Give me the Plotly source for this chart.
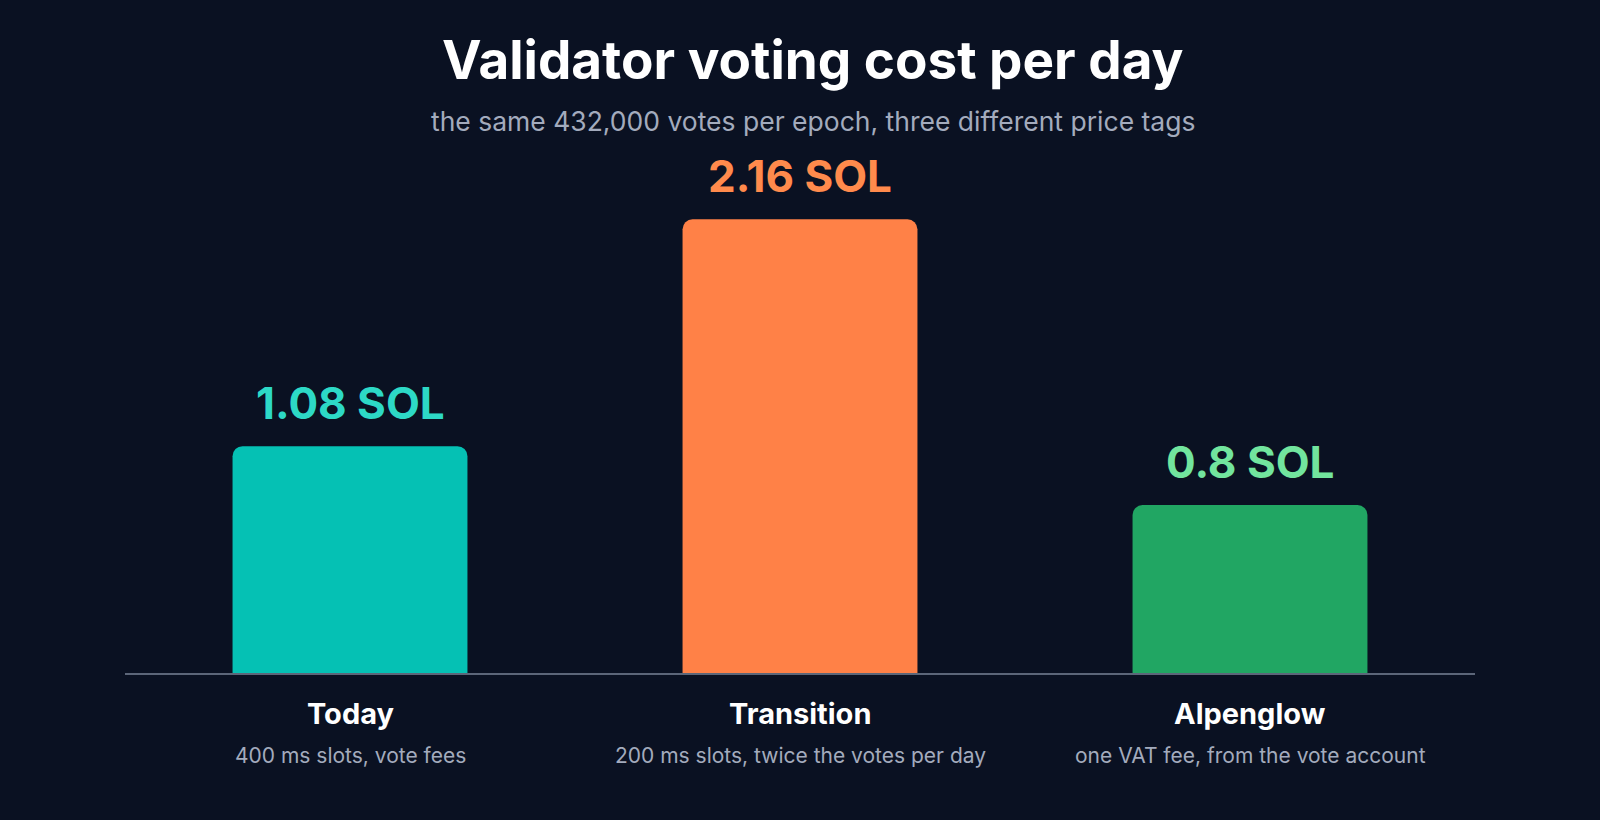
import plotly.graph_objects as go

categories = ["Today", "Transition", "Alpenglow"]
costs_sol = [1.08, 2.16, 0.8]
value_labels = ["1.08 SOL", "2.16 SOL", "0.8 SOL"]
subtitles = ["400 ms slots, vote fees",
             "200 ms slots, twice the votes per day",
             "one VAT fee, from the vote account"]

bar_colors = ["#05C1B4", "#FF8147", "#21A663"]
label_colors = ["#2DD9C6", "#FF8A4C", "#72E59E"]

BG = "#0A1122"
FONT = "Inter"

fig = go.Figure()
fig.add_trace(go.Bar(x=categories, y=costs_sol,
                     marker=dict(color=bar_colors, cornerradius=10, line=dict(width=0)),
                     hoverinfo="skip"))

# value labels above bars
for cat, val, txt, col in zip(categories, costs_sol, value_labels, label_colors):
    fig.add_annotation(x=cat, y=val, text=f"<b>{txt}</b>", showarrow=False,
                       xref="x", yref="y", yanchor="bottom", yshift=14,
                       font=dict(family=FONT, size=44, color=col))

# category names + descriptions under the axis
for cat, sub in zip(categories, subtitles):
    fig.add_annotation(x=cat, y=0, text=f"<b>{cat}</b>", showarrow=False,
                       xref="x", yref="y", yanchor="middle", yshift=-40,
                       font=dict(family=FONT, size=29, color="#FFFFFF"))
    fig.add_annotation(x=cat, y=0, text=sub, showarrow=False,
                       xref="x", yref="y", yanchor="middle", yshift=-82,
                       font=dict(family=FONT, size=21, color="#A3ABBD"))

# title block
fig.add_annotation(x=0.5096, y=1, xref="paper", yref="paper", yanchor="middle",
                   yshift=162 - 60, showarrow=False,
                   text="<b>Validator voting cost per day</b>",
                   font=dict(family=FONT, size=53, color="#FFFFFF"))
fig.add_annotation(x=0.5096, y=1, xref="paper", yref="paper", yanchor="middle",
                   yshift=162 - 121, showarrow=False,
                   text="the same 432,000 votes per epoch, three different price tags",
                   font=dict(family=FONT, size=26.5, color="#A3ABBD"))

fig.update_layout(
    width=1600, height=820,
    paper_bgcolor=BG, plot_bgcolor=BG,
    margin=dict(l=125, r=125, t=162, b=147),
    bargap=0.478,
    showlegend=False,
    xaxis=dict(showline=True, linecolor="#5C6679", linewidth=1.5,
               showticklabels=False, showgrid=False, zeroline=False, ticks=""),
    yaxis=dict(range=[0, 2.433], visible=False, showgrid=False, zeroline=False),
)

fig.write_html("out.html", config={"displayModeBar": False},
               post_script="document.body.style.margin='0';"
                           "document.body.style.background='#0A1122';")
